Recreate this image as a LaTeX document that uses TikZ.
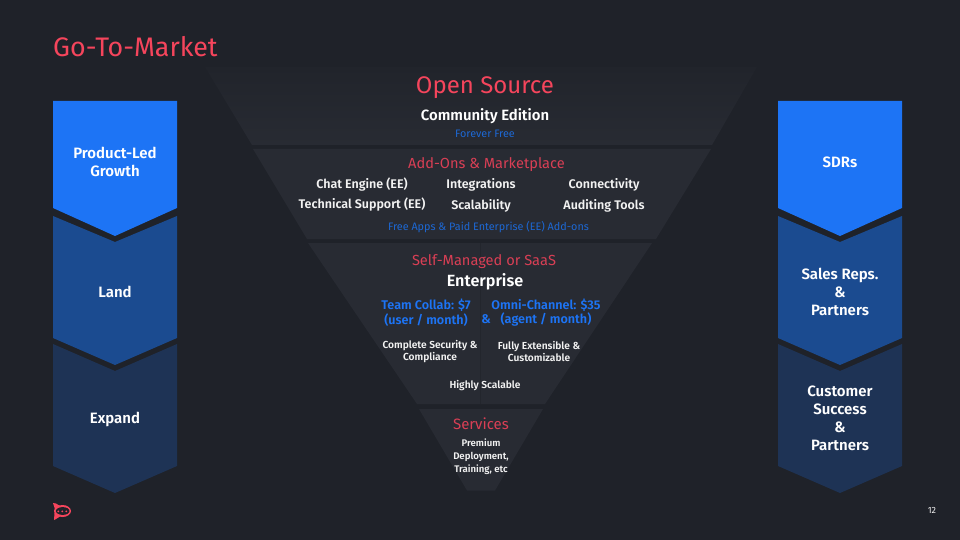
\documentclass[tikz,border=0pt]{standalone}
\usepackage{fontspec}
\setmainfont{Fira Sans}[BoldFont={* SemiBold}]
\definecolor{bgc}{HTML}{1F2229}
\definecolor{bandc}{HTML}{282B33}
\definecolor{bandt}{HTML}{21242B}
\definecolor{seam}{HTML}{23262D}
\definecolor{blueA}{HTML}{1D74F5}
\definecolor{blueB}{HTML}{1B4B90}
\definecolor{blueC}{HTML}{1E3355}
\definecolor{redc}{HTML}{F5455C}
\definecolor{redd}{HTML}{D93F55}
\definecolor{bluet}{HTML}{1D74F5}
\definecolor{blued}{HTML}{1D68D4}
\definecolor{whitet}{HTML}{F2F2F2}
\tikzset{
  x=1pt,y=-1pt,
  band/.style={fill=bandc,draw=none},
  lbl/.style={inner sep=0pt,align=center,font=\fontsize{15}{18}\selectfont\bfseries,text=white},
  head/.style={inner sep=0pt,align=center,font=\fontsize{14.6}{18}\selectfont,text=redd},
  item/.style={inner sep=0pt,align=center,font=\fontsize{12.5}{14}\selectfont\bfseries,text=whitet},
  small/.style={inner sep=0pt,align=center,font=\fontsize{10.2}{12}\selectfont\bfseries,text=whitet},
  price/.style={inner sep=0pt,align=center,font=\fontsize{12.6}{14.6}\selectfont\bfseries,text=bluet},
  note/.style={inner sep=0pt,align=center,font=\fontsize{10.8}{12}\selectfont,text=blued},
}
\begin{document}
\begin{tikzpicture}
\useasboundingbox (0,0) rectangle (960,540);
\fill[bgc] (0,0) rectangle (960,540);
% funnel
\shade[top color=bandt,bottom color=bandc,draw=none] (205,67) -- (757,67) -- (712,145) -- (252,145) -- cycle;
\fill[band] (253,149) -- (711,149) -- (656,239) -- (307,239) -- cycle;
\fill[band] (308,243) -- (652,243) -- (545,404) -- (417,404) -- cycle;
\draw[seam,line width=0.5pt] (480,243) -- (480,404);
\fill[band] (419,409) -- (543,409) -- (495,490.5) -- (467,490.5) -- cycle;
% left chevrons
\fill[blueC] (53,344) -- (115,371) -- (177,344) -- (177,466) -- (115,493) -- (53,466) -- cycle;
\fill[blueB] (53,216) -- (115,242) -- (177,216) -- (177,338) -- (115,365) -- (53,338) -- cycle;
\fill[blueA] (53,101) -- (177,101) -- (177,208) -- (115,236) -- (53,208) -- cycle;
% right chevrons
\fill[blueC] (778,344) -- (840,371) -- (902,344) -- (902,466) -- (840,493) -- (778,466) -- cycle;
\fill[blueB] (778,216) -- (840,242) -- (902,216) -- (902,338) -- (840,365) -- (778,338) -- cycle;
\fill[blueA] (778,101) -- (902,101) -- (902,208) -- (840,236) -- (778,208) -- cycle;
% title
\node[inner sep=0pt,anchor=west,font=\fontsize{26.8}{30}\selectfont,text=redc] (title) at (53,47) {Go-To-Market};
% chevron labels
\node[lbl] (plg) at (115,162) {Product-Led\\Growth};
\node[lbl] (land) at (115,291.5) {Land};
\node[lbl] (expand) at (115,419) {Expand};
\node[lbl] (sdr) at (840,162) {SDRs};
\node[lbl] (reps) at (840,292) {Sales Reps.\\\&\\Partners};
\node[lbl] (cs) at (840,418.5) {Customer\\Success\\\&\\Partners};
% band 1
\node[inner sep=0pt,font=\fontsize{24}{28}\selectfont,text=redc] (os) at (485,87.5) {Open Source};
\node[inner sep=0pt,font=\fontsize{14.9}{18}\selectfont\bfseries,text=white] (ce) at (485,116.5) {Community Edition};
\node[note] (ff) at (485,133.5) {Forever Free};
% band 2
\node[head] (addons) at (486.5,165) {Add-Ons \& Marketplace};
\node[item] (chat) at (362,185) {Chat Engine (EE)};
\node[item] (integ) at (481,185) {Integrations};
\node[item] (conn) at (604,185) {Connectivity};
\node[item] (tech) at (362,205) {Technical Support (EE)};
\node[item] (scal) at (481,205.5) {Scalability};
\node[item] (audit) at (604,205.5) {Auditing Tools};
\node[note] (free) at (488.5,227.5) {Free Apps \& Paid Enterprise (EE) Add-ons};
% band 3
\node[head] (self) at (484,261.5) {Self-Managed or SaaS};
\node[inner sep=0pt,font=\fontsize{16.2}{18}\selectfont\bfseries,text=white] (ent) at (485,281.5) {Enterprise};
\node[price] (team) at (426,312.5) {Team Collab: \$7\\(user / month)};
\node[price] (amp) at (486,319) {\&};
\node[price] (omni) at (546,312.5) {Omni-Channel: \$35\\(agent / month)};
\node[small] (sec) at (430,351.5) {Complete Security \&\\Compliance};
\node[small] (ext) at (539,351.5) {Fully Extensible \&\\Customizable};
\node[small] (high) at (485,385.5) {Highly Scalable};
% band 4
\node[head,font=\fontsize{15}{18}\selectfont] (serv) at (481,424) {Services};
\node[small,font=\fontsize{9.6}{13}\selectfont\bfseries] (prem) at (481,457) {Premium\\Deployment,\\Training, etc};
% logo
\begin{scope}[shift={(53,503)}]
\fill[redc] (9.5,8) ellipse [x radius=8.5, y radius=6];
\fill[redc] (0,0) -- (3,0.5) -- (7,3) -- (2,6) -- cycle;
\fill[redc] (1,17) -- (1.5,10) -- (7,13.5) -- (3,16) -- cycle;
\fill[bgc] (9.7,8) ellipse [x radius=6.8, y radius=3.9];
\fill[redc] (5.3,8.3) circle (1) (9.3,8.3) circle (1) (13.3,8.3) circle (1);
\end{scope}
\node[inner sep=0pt,font=\fontsize{9}{11}\selectfont,text=whitet] (pg) at (932,510) {12};
\end{tikzpicture}
\end{document}
